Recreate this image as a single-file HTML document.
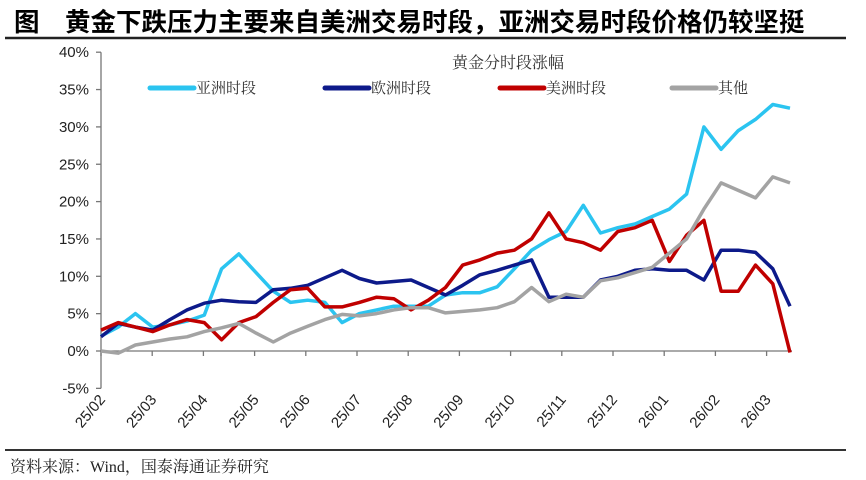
<!DOCTYPE html>
<html><head><meta charset="utf-8"><style>
body{margin:0;background:#fff;}
svg{display:block;font-family:"Liberation Sans","Noto Sans CJK SC",sans-serif;}
</style></head><body>
<svg id="chart" width="866" height="480" viewBox="0 0 866 480">
<text x="14" y="31" font-size="25.5" font-weight="bold" fill="#000" font-family="'Liberation Sans','Noto Sans CJK SC',sans-serif">图　黄金下跌压力主要来自美洲交易时段，亚洲交易时段价格仍较坚挺</text>
<line x1="5" y1="38" x2="846" y2="38" stroke="#222" stroke-width="2.5"/>
<text x="508" y="68" font-size="16" text-anchor="middle" fill="#333" font-family="'Liberation Serif','Noto Serif CJK SC',serif">黄金分时段涨幅</text>
<g id="legend"></g>
<g id="axes"></g>
<g id="series"></g>
<line x1="5" y1="450" x2="846" y2="450" stroke="#333" stroke-width="2"/>
<text x="10" y="472" font-size="16" fill="#222" font-family="'Liberation Serif','Noto Serif CJK SC',serif">资料来源：Wind，国泰海通证券研究</text>
</svg>
<script>
const monthLabels=["25/02","25/03","25/04","25/05","25/06","25/07","25/08","25/09","25/10","25/11","25/12","26/01","26/02","26/03"];
const yTicks=[-5,0,5,10,15,20,25,30,35,40];
const seriesNames=["亚洲时段","欧洲时段","美洲时段","其他"];
const asia=[2,3.2,5,3.2,3.5,4,4.8,11,13,10.5,8,6.5,6.8,6.5,3.8,5,5.5,6,6,6,7.5,7.8,7.8,8.6,11,13.5,14.9,16,19.5,15.8,16.5,17,18,19,21,30,27,29.5,31,33,32.5];
const europe=[1.9,3.7,3.2,2.8,4.2,5.5,6.4,6.8,6.6,6.5,8.2,8.4,8.8,9.8,10.8,9.7,9.1,9.3,9.5,8.5,7.5,8.8,10.2,10.8,11.5,12.2,7.2,7.2,7.2,9.5,10,10.8,11,10.8,10.8,9.5,13.5,13.5,13.2,11,6];
const america=[2.8,3.8,3.2,2.6,3.5,4.2,3.8,1.5,3.8,4.6,6.5,8.2,8.4,5.9,5.9,6.5,7.2,7,5.5,6.8,8.5,11.5,12.2,13.1,13.5,15,18.5,15,14.5,13.5,16,16.5,17.5,12,15.5,17.5,8,8,11.5,9,-0.2];
const other=[0,-0.3,0.8,1.2,1.6,1.9,2.6,3.1,3.7,2.4,1.2,2.4,3.3,4.2,4.9,4.7,5,5.5,5.8,5.8,5.1,5.3,5.5,5.8,6.6,8.5,6.6,7.6,7.2,9.4,9.8,10.5,11.2,13.1,15,19,22.5,21.5,20.5,23.3,22.5];
const colors=["#2bc4f0","#0d1a8a","#c00000","#a3a3a3"];
const NS="http://www.w3.org/2000/svg";
const X0=101,X1=790,Y0=351,PPU=7.47;
const yScale=v=>Y0-v*PPU;
const xScale=i=>X0+i*(X1-X0)/(asia.length-1);
const mScale=k=>X0+k*51.2;
function mk(tag,attrs,parent){const e=document.createElementNS(NS,tag);for(const k in attrs)e.setAttribute(k,attrs[k]);parent.appendChild(e);return e;}
const axes=document.getElementById('axes');
let yl=mk('line',{x1:X0,y1:yScale(40),x2:X0,y2:yScale(-5),stroke:'#777','stroke-width':1.3},axes);


yTicks.forEach(v=>{
  let t=mk('line',{x1:X0-5,y1:yScale(v),x2:X0,y2:yScale(v),stroke:'#777','stroke-width':1.3},axes);
  
  
  let tx=mk('text',{x:X0-12,y:yScale(v)+5,'font-size':15,'text-anchor':'end',fill:'#222'},axes);
  tx.textContent=v+'%';
  
  
});
let xl=mk('line',{x1:X0,y1:Y0,x2:X1+2,y2:Y0,stroke:'#777','stroke-width':1.3},axes);


monthLabels.forEach((m,k)=>{
  const x=mScale(k);
  let t=mk('line',{x1:x,y1:Y0,x2:x,y2:Y0+5,stroke:'#777','stroke-width':1.3},axes);
  
  
  const ax=x+5, ay=400;
  let tx=mk('text',{x:ax,y:ay,'font-size':15,'text-anchor':'end',fill:'#222',transform:`rotate(-50 ${ax} ${ay})`},axes);
  tx.textContent=m;
  
  
});
const ser=document.getElementById('series');
[asia,europe,america,other].forEach((arr,si)=>{
  const d=arr.map((v,i)=>(i?'L':'M')+xScale(i).toFixed(1)+' '+yScale(v).toFixed(1)).join(' ');
  let p=mk('path',{d:d,fill:'none',stroke:colors[si],'stroke-width':3.5,'stroke-linejoin':'round'},ser);
  
  
});
const leg=document.getElementById('legend');
const lx=[150,325,500,672];
seriesNames.forEach((n,i)=>{
  let l=mk('line',{x1:lx[i],y1:88,x2:lx[i]+44,y2:88,stroke:colors[i],'stroke-width':5,'stroke-linecap':'round'},leg);
  
  
  let t=mk('text',{x:lx[i]+46,y:93,'font-size':15,fill:'#333','font-family':"'Liberation Serif','Noto Serif CJK SC',serif"},leg);
  t.textContent=n;
  
  
});
</script>
</body></html>
